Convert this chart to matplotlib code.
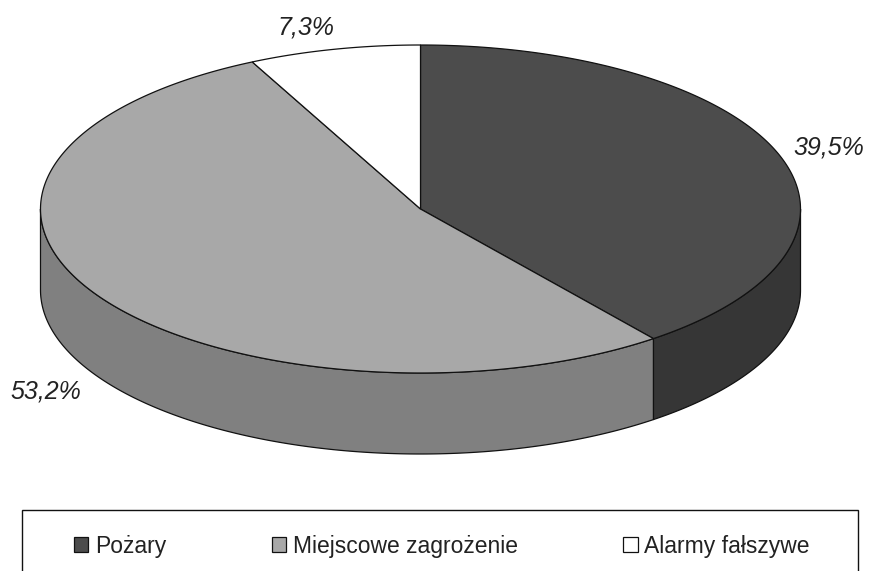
import numpy as np
import matplotlib
matplotlib.use("Agg")
import matplotlib.pyplot as plt
from matplotlib.patches import Polygon, Patch, Rectangle

categories = ["Pożary", "Miejscowe zagrożenie", "Alarmy fałszywe"]
values = [39.5, 53.2, 7.3]
labels = ["39,5%", "53,2%", "7,3%"]
top_colors = ["#4c4c4c", "#a8a8a8", "#ffffff"]
side_colors = ["#363636", "#808080", "#ffffff"]

plt.rcParams["font.family"] = ["Liberation Sans", "DejaVu Sans"]

cx, cy = 420.5, 209
rx, ry = 380, 164
depth = 81


def rim(a, b):
    t = np.radians(np.linspace(a, b, max(int(abs(b - a)) * 2, 2)))
    return cx + rx * np.sin(t), cy - ry * np.cos(t)


fig = plt.figure(figsize=(8.69, 5.71), dpi=100)
ax = fig.add_axes([0, 0, 1, 1])
ax.set_xlim(0, 869)
ax.set_ylim(571, 0)
ax.axis("off")

edges = np.concatenate([[0], np.cumsum(values)]) * 3.6

# side wall first, only the front half of the rim shows
for i in range(len(values)):
    a, b = max(edges[i], 90), min(edges[i + 1], 270)
    if a >= b:
        continue
    x, y = rim(a, b)
    pts = np.vstack([np.c_[x, y], np.c_[x[::-1], y[::-1] + depth]])
    ax.add_patch(Polygon(pts, fc=side_colors[i], ec="#111111", lw=0.9))

for i in range(len(values)):
    x, y = rim(edges[i], edges[i + 1])
    pts = np.vstack([[cx, cy], np.c_[x, y]])
    ax.add_patch(Polygon(pts, fc=top_colors[i], ec="#111111", lw=0.9))

ax.text(829, 148, labels[0], fontsize=18, style="italic", ha="center", va="center", color="#222222")
ax.text(46, 391, labels[1], fontsize=18, style="italic", ha="center", va="center", color="#222222")
ax.text(306, 28, labels[2], fontsize=18, style="italic", ha="center", va="center", color="#222222")

# legend box runs off the bottom of the page
ax.add_patch(Rectangle((22, 510), 836, 70, fc="white", ec="#111111", lw=1.0))
handles = [Patch(fc=c, ec="#111111", lw=0.9) for c in top_colors]
leg = ax.legend(handles, categories, ncol=3, loc="center",
                bbox_to_anchor=(442 / 869, 1 - 546 / 571),
                fontsize=16.5, frameon=False, labelcolor="#222222",
                handlelength=0.62, handleheight=0.62, handletextpad=0.3,
                borderaxespad=0, borderpad=0, columnspacing=4.6)

fig.savefig("out.png", dpi=100)
